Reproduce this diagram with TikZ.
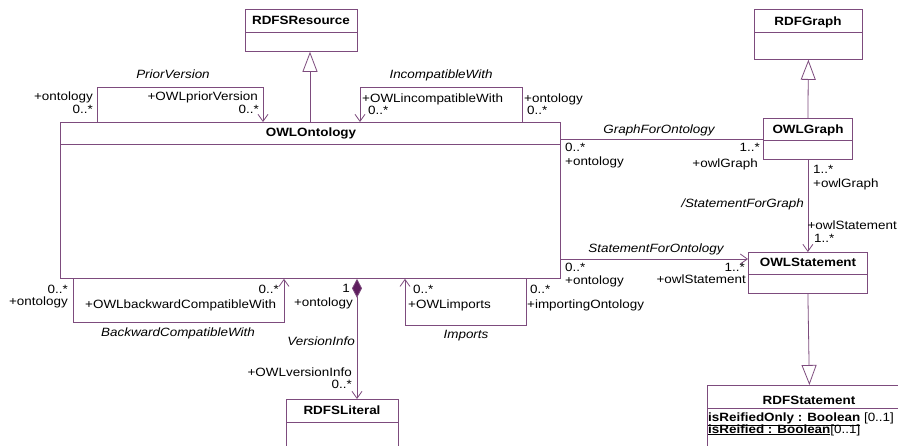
\documentclass[tikz,border=0pt,12pt]{standalone}
\usepackage{fontspec}
\setmainfont{Liberation Sans}[FakeStretch=1.12]
\usetikzlibrary{arrows.meta,positioning}
\definecolor{umlpurple}{RGB}{125,75,125}
\definecolor{umldark}{RGB}{95,30,95}
\tikzset{
  classbox/.style={draw=umlpurple, line width=0.8pt, fill=white, inner sep=0pt, anchor=north west},
  classname/.style={font=\bfseries, inner sep=0pt, anchor=mid},
  role/.style={inner sep=0pt},
  assoc/.style={font=\itshape, inner sep=0pt, anchor=mid},
  umlline/.style={draw=umlpurple, line width=0.8pt},
  navarrow/.style={-{Straight Barb[length=7pt,width=10pt]}},
  genarrow/.style={-{Triangle[open,fill=white,length=20pt,width=15pt]}},
}

\begin{document}
\begin{tikzpicture}[x=1pt,y=-1pt]
        \useasboundingbox (0,0) rectangle (898,445);
        % classes
        \node[classbox, minimum width=112pt, minimum height=42pt] (rdfsresource) at (245,9) {};
        \node[classbox, minimum width=500pt, minimum height=156pt] (ontology) at (60,122) {};
        \node[classbox, minimum width=108pt, minimum height=50pt] (rdfgraph) at (754,9) {};
        \node[classbox, minimum width=89pt, minimum height=41pt] (owlgraph) at (763,118) {};
        \node[classbox, minimum width=119pt, minimum height=41pt] (owlstatement) at (748,252) {};
        \node[classbox, minimum width=112pt, minimum height=60pt] (rdfsliteral) at (286,399) {};
        \node[classbox, minimum width=204pt, minimum height=70pt] (rdfstatement) at (707,385) {};
        \foreach \c/\d in {rdfsresource/23, ontology/22, rdfgraph/23, owlgraph/22, owlstatement/22, rdfsliteral/23, rdfstatement/23}
          \draw[umlline] ([yshift=-\d pt]\c.north west) -- ([yshift=-\d pt]\c.north east);
        \node[classname] (rdfsresourcename) at (301,21) {RDFSResource};
        \node[classname] (ontologyname) at (311,133) {OWLOntology};
        \node[classname] (rdfgraphname) at (808,22) {RDFGraph};
        \node[classname] (owlgraphname) at (808,130) {OWLGraph};
        \node[classname] (owlstatementname) at (808,263) {OWLStatement};
        \node[classname] (rdfsliteralname) at (342,411) {RDFSLiteral};
        \node[classname] (rdfstatementname) at (809,401) {RDFStatement};
        \node[role, anchor=mid west] (attrreifiedonly) at (708,418) {\underline{\textbf{isReifiedOnly : Boolean}} [0..1]};
        \node[role, anchor=mid west] (attrreified) at (708,430) {\underline{\textbf{isReified : Boolean}}[0..1]};

        % generalizations
        \coordinate (gen1) at ([xshift=250pt]ontology.north west);
        \draw[umlline, genarrow] (gen1) -- (gen1 |- rdfsresource.south);
        \draw[umlline, genarrow] (owlgraph.north) -- (rdfgraph.south);
        \draw[umlline, genarrow] (owlstatement.south) -- (rdfstatement.north);

        % PriorVersion
        \coordinate (pv1) at ([xshift=37pt]ontology.north west);
        \coordinate (pv2) at ([xshift=203pt]ontology.north west);
        \draw[umlline, navarrow] (pv1) -- ++(0,-35) -| (pv2);
        \node[assoc] (priorversion) at (173,75) {PriorVersion};
        \node[role, anchor=mid east] (pvsrc) at (93,97) {+ontology};
        \node[role, anchor=mid east] (pvsrcm) at (93,110) {0..*};
        \node[role, anchor=mid east] (pvdst) at (258,97) {+OWLpriorVersion};
        \node[role, anchor=mid east] (pvdstm) at (259,110) {0..*};

        % IncompatibleWith
        \coordinate (ic1) at ([xshift=462pt]ontology.north west);
        \coordinate (ic2) at ([xshift=300pt]ontology.north west);
        \draw[umlline, navarrow] (ic1) -- ++(0,-35) -| (ic2);
        \node[assoc] (incompatible) at (441,75) {IncompatibleWith};
        \node[role, anchor=mid west] (icdst) at (362,99) {+OWLincompatibleWith};
        \node[role, anchor=mid west] (icdstm) at (368,111) {0..*};
        \node[role, anchor=mid west] (icsrc) at (524,99) {+ontology};
        \node[role, anchor=mid west] (icsrcm) at (527,111) {0..*};

        % GraphForOntology
        \draw[umlline] (ontology.east |- owlgraph.west) -- (owlgraph.west);
        \node[assoc] (graphforontology) at (659,130) {GraphForOntology};
        \node[role, anchor=mid west] (gfosrcm) at (565,148) {0..*};
        \node[role, anchor=mid west] (gfosrc) at (565,162) {+ontology};
        \node[role, anchor=mid east] (gfodstm) at (760,148) {1..*};
        \node[role, anchor=mid east] (gfodst) at (758,164) {+owlGraph};

        % StatementForGraph
        \draw[umlline, navarrow] (owlgraph.south) -- (owlstatement.north);
        \node[role, anchor=mid west] (sfgsrcm) at (813,170) {1..*};
        \node[role, anchor=mid west] (sfgsrc) at (813,184) {+owlGraph};
        \node[assoc, anchor=mid east] (statementforgraph) at (804,204) {/StatementForGraph};
        \node[role, anchor=mid east] (sfgdst) at (897,226) {+owlStatement};
        \node[role, anchor=mid west] (sfgdstm) at (814,239) {1..*};

        % StatementForOntology
        \coordinate (sfo) at ([yshift=-7pt]owlstatement.north west);
        \draw[umlline, navarrow] (ontology.east |- sfo) -- (sfo);
        \node[assoc] (statementforontology) at (656,249) {StatementForOntology};
        \node[role, anchor=mid west] (sfosrcm) at (565,268) {0..*};
        \node[role, anchor=mid west] (sfosrc) at (565,281) {+ontology};
        \node[role, anchor=mid east] (sfodstm) at (745,268) {1..*};
        \node[role, anchor=mid east] (sfodst) at (746,280) {+owlStatement};

        % BackwardCompatibleWith
        \coordinate (bc1) at ([xshift=13pt]ontology.south west);
        \coordinate (bc2) at ([xshift=224pt]ontology.south west);
        \draw[umlline, navarrow] (bc1) -- ++(0,44) -| (bc2);
        \node[role, anchor=mid east] (bcsrcm) at (68,290) {0..*};
        \node[role, anchor=mid east] (bcsrc) at (68,302) {+ontology};
        \node[role, anchor=mid east] (bcdstm) at (279,290) {0..*};
        \node[role, anchor=mid west] (bcdst) at (85,305) {+OWLbackwardCompatibleWith};
        \node[assoc] (backward) at (178,333) {BackwardCompatibleWith};

        % VersionInfo
        \coordinate (vi) at ([xshift=297pt]ontology.south west);
        \draw[umlline, {Diamond[length=19pt,width=10pt,fill=umldark]}-{Straight Barb[length=7pt,width=10pt]}] (vi) -- (vi |- rdfsliteral.north);
        \node[role, anchor=mid east] (visrcm) at (350,289) {1};
        \node[role, anchor=mid east] (visrc) at (353,303) {+ontology};
        \node[assoc, anchor=mid east] (versioninfo) at (355,342) {VersionInfo};
        \node[role, anchor=mid east] (vidst) at (352,373) {+OWLversionInfo};
        \node[role, anchor=mid east] (vidstm) at (352,385) {0..*};

        % Imports
        \coordinate (im1) at ([xshift=466pt]ontology.south west);
        \coordinate (im2) at ([xshift=345pt]ontology.south west);
        \draw[umlline, navarrow] (im1) -- ++(0,47) -| (im2);
        \node[role, anchor=mid west] (imdstm) at (413,290) {0..*};
        \node[role, anchor=mid west] (imdst) at (408,305) {+OWLimports};
        \node[role, anchor=mid west] (imsrcm) at (530,290) {0..*};
        \node[role, anchor=mid west] (imsrc) at (527,305) {+importingOntology};
        \node[assoc] (imports) at (466,335) {Imports};
\end{tikzpicture}
\end{document}
